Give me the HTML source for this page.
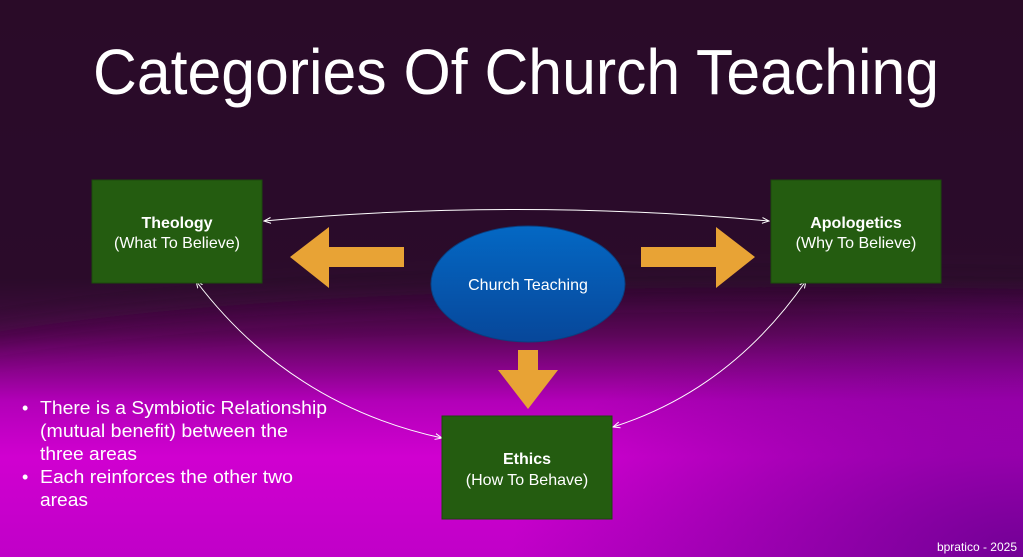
<!DOCTYPE html>
<html><head><meta charset="utf-8"><style>
html,body{margin:0;padding:0;background:#2b0a28;}
svg{display:block;font-family:"Liberation Sans",sans-serif;}
</style></head><body>
<svg width="1023" height="557" viewBox="0 0 1023 557" xmlns="http://www.w3.org/2000/svg">
<defs>
<linearGradient id="bg" x1="0" y1="0" x2="0" y2="1">
<stop offset="0" stop-color="#2a0a27"/>
<stop offset="0.5" stop-color="#2d0a2c"/>
<stop offset="0.6" stop-color="#5a0657"/>
<stop offset="0.72" stop-color="#b200b8"/>
<stop offset="0.82" stop-color="#d000d0"/>
<stop offset="1" stop-color="#c000c8"/>
</linearGradient>
<radialGradient id="dark" cx="1" cy="1" r="0.5">
<stop offset="0" stop-color="#6a0090" stop-opacity="0.9"/>
<stop offset="1" stop-color="#6a0090" stop-opacity="0"/>
</radialGradient>
<linearGradient id="ell" x1="0" y1="0" x2="0" y2="1">
<stop offset="0" stop-color="#0468c4"/>
<stop offset="1" stop-color="#07479a"/>
</linearGradient>
<filter id="blur"><feGaussianBlur stdDeviation="18"/></filter>
<marker id="ah" markerWidth="8" markerHeight="8" refX="7" refY="4" orient="auto-start-reverse" markerUnits="userSpaceOnUse">
<path d="M0,1 L7,4 L0,7" fill="none" stroke="#fff" stroke-width="1"/>
</marker>
</defs>
<rect width="1023" height="557" fill="url(#bg)"/>
<path d="M-50,340 Q300,275 1080,290 L1080,-50 L-50,-50Z" fill="#2b0a2a" opacity="0.6" filter="url(#blur)"/>
<rect width="1023" height="557" fill="url(#dark)"/>
<text x="516" y="94" text-anchor="middle" font-size="64" fill="#fff" textLength="846" lengthAdjust="spacingAndGlyphs">Categories Of Church Teaching</text>
<path d="M264,221 Q516,198 769,221" fill="none" stroke="#fff" stroke-width="1" marker-start="url(#ah)" marker-end="url(#ah)"/>
<path d="M196,281 Q290,405 442,438" fill="none" stroke="#fff" stroke-width="1" marker-start="url(#ah)" marker-end="url(#ah)"/>
<path d="M806,281 Q730,390 613,427" fill="none" stroke="#fff" stroke-width="1" marker-start="url(#ah)" marker-end="url(#ah)"/>
<rect x="92" y="180" width="170" height="103" fill="#245c10" stroke="#1b4a0c"/>
<rect x="771" y="180" width="170" height="103" fill="#245c10" stroke="#1b4a0c"/>
<rect x="442" y="416" width="170" height="103" fill="#245c10" stroke="#1b4a0c"/>
<g fill="#fff" font-size="16" text-anchor="middle">
<text x="177" y="228" font-weight="bold">Theology</text>
<text x="177" y="248">(What To Believe)</text>
<text x="856" y="228" font-weight="bold">Apologetics</text>
<text x="856" y="248">(Why To Believe)</text>
<text x="527" y="464" font-weight="bold">Ethics</text>
<text x="527" y="485">(How To Behave)</text>
</g>
<g fill="#e8a335">
<path d="M290,257 L329,227 L329,247 L404,247 L404,267 L329,267 L329,288Z"/>
<path d="M755,257 L716,227 L716,247 L641,247 L641,267 L716,267 L716,288Z"/>
<path d="M518,350 L538,350 L538,370 L558,370 L528,409 L498,370 L518,370Z"/>
</g>
<ellipse cx="528" cy="284" rx="97" ry="58" fill="url(#ell)" stroke="#0a3f80" stroke-width="1"/>
<text x="528" y="290" text-anchor="middle" font-size="16" fill="#fff">Church Teaching</text>
<g fill="#fff" font-size="18">
<text x="22" y="414">•</text>
<text x="40" y="414" textLength="287" lengthAdjust="spacingAndGlyphs">There is a Symbiotic Relationship</text>
<text x="40" y="437" textLength="248" lengthAdjust="spacingAndGlyphs">(mutual benefit) between the</text>
<text x="40" y="460" textLength="97" lengthAdjust="spacingAndGlyphs">three areas</text>
<text x="22" y="483">•</text>
<text x="40" y="483" textLength="253" lengthAdjust="spacingAndGlyphs">Each reinforces the other two</text>
<text x="40" y="506" textLength="48" lengthAdjust="spacingAndGlyphs">areas</text>
</g>
<text x="1017" y="551" text-anchor="end" font-size="12" fill="#fff">bpratico - 2025</text>
</svg>
</body></html>
